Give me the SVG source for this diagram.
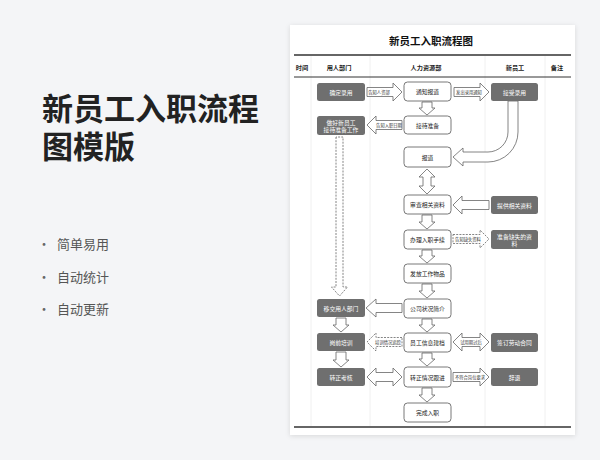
<svg xmlns="http://www.w3.org/2000/svg" width="600" height="460" viewBox="0 0 600 460">
<defs>
<filter id="sh" x="-10%" y="-10%" width="120%" height="120%">
<feDropShadow dx="0" dy="1" stdDeviation="2.5" flood-color="#000" flood-opacity="0.12"/>
</filter>
</defs>
<style>
text{font-family:"Noto Sans CJK SC","Noto Sans",sans-serif;text-anchor:middle;dominant-baseline:central}
.dk rect{fill:#6f6f6f}
.dk text{fill:#fff;font-size:5.8px}
.hr rect{fill:#fff;stroke:#555;stroke-width:0.8}
.hr text{fill:#222;font-size:5.8px}
.ar{fill:#fff;stroke:#666;stroke-width:0.8;stroke-linejoin:miter}
.ds{stroke-dasharray:2 1.2}
.lb{font-size:4.3px;fill:#333}
.hd{font-size:6.2px;font-weight:700;fill:#222}
.div{stroke:#ececec;stroke-width:0.8}
</style>
<rect width="600" height="460" fill="#f4f5f7"/>
<g id="left">
<text style="text-anchor:start;font-size:31px;font-weight:700;fill:#222"><tspan x="42" y="106">新员工入职流程</tspan><tspan x="42" y="144">图模版</tspan></text>
<g style="font-size:13px;fill:#555">
<text x="44" y="243" style="text-anchor:middle;fill:#666">•</text>
<text x="57" y="243" style="text-anchor:start">简单易用</text>
<text x="44" y="276" style="text-anchor:middle;fill:#666">•</text>
<text x="57" y="276" style="text-anchor:start">自动统计</text>
<text x="44" y="308" style="text-anchor:middle;fill:#666">•</text>
<text x="57" y="308" style="text-anchor:start">自动更新</text>
</g>
</g>
<rect x="290" y="25" width="285" height="410" fill="#fff" filter="url(#sh)"/>
<text x="431" y="40" style="font-size:10.5px;font-weight:700;fill:#111">新员工入职流程图</text>
<g id="grid">
<line class="div" x1="311" y1="56" x2="311" y2="426"/>
<line class="div" x1="370" y1="56" x2="370" y2="426"/>
<line class="div" x1="485" y1="56" x2="485" y2="426"/>
<line class="div" x1="545" y1="56" x2="545" y2="426"/>
<line x1="294" y1="55" x2="571" y2="55" stroke="#333" stroke-width="1.3"/>
<line x1="294" y1="77" x2="571" y2="77" stroke="#333" stroke-width="1"/>
<line x1="294" y1="427" x2="571" y2="427" stroke="#333" stroke-width="1.3"/>
<text class="hd" x="302" y="67">时间</text>
<text class="hd" x="339" y="67">用人部门</text>
<text class="hd" x="426" y="67">人力资源部</text>
<text class="hd" x="515" y="67">新员工</text>
<text class="hd" x="557" y="67">备注</text>
</g>
<g id="connectors">
<path class="ar" d="M367 87.5H393V83L402 92L393 101V96.5H367Z"/>
<text class="lb" x="379" y="92">告知人资部</text>
<path class="ar" d="M454 87.5H480V83L489 92L480 101V96.5H454Z"/>
<text class="lb" x="469" y="92">发出录用通知</text>
<path class="ar" d="M402 120.5H376V116L367 125L376 134V129.5H402Z"/>
<text class="lb" x="389" y="125">告知入职日期</text>
<path class="ar" d="M489 200.5H462V196L453 205L462 214V209.5H489Z"/>
<path class="ar ds" d="M453 234.5H480V230L489 239L480 248V243.5H453Z"/>
<text class="lb" x="468" y="239">告知缺失资料</text>
<path class="ar" d="M402 303.5H376V299L366 308L376 317V312.5H402Z"/>
<path class="ar ds" d="M402 337.5H376V333L367 342L376 351V346.5H402Z"/>
<text class="lb" x="388" y="342">培训情况追踪</text>
<path class="ar" d="M453 342L462 333V337.5H480V333L489 342L480 351V346.5H462V351Z"/>
<text class="lb" x="471" y="342">试用期过后</text>
<path class="ar" d="M367 377L376 368V372.5H393V368L402 377L393 386V381.5H376V386Z"/>
<path class="ar" d="M453 372.5H480V368L489 377L480 386V381.5H453Z"/>
<text class="lb" x="470" y="377">不符合岗位要求</text>
<path class="ar" d="M422 102V108H419L427 115L435 108H432V102Z"/>
<path class="ar" d="M427 169L435 177H431V186H435L427 194L419 186H423V177H419Z"/>
<path class="ar" d="M422 215V222H419L427 229L435 222H432V215Z"/>
<path class="ar" d="M422 250V256H419L427 263L435 256H432V250Z"/>
<path class="ar" d="M422 284V291H419L427 298L435 291H432V284Z"/>
<path class="ar" d="M422 319V325H419L427 332L435 325H432V319Z"/>
<path class="ar" d="M422 353V359H419L427 366L435 359H432V353Z"/>
<path class="ar" d="M422 388V395H419L427 402L435 395H432V388Z"/>
<path class="ar" d="M336 318V325H333L341 332L349 325H346V318Z"/>
<path class="ar" d="M336 352V360H333L341 367L349 360H346V352Z"/>
<path class="ar ds" d="M336 137V287H331.5L339.5 296L347.5 287H343V137Z"/>
<path class="ar" d="M508 101V132A20 20 0 0 1 488 152H463V148L453 157L463 166V162H488A30 30 0 0 0 518 132V101Z"/>
</g>
<g id="n-qdly" class="dk"><rect x="317" y="83" width="48" height="18" rx="2.5"/><text x="341" y="92">确定录用</text></g>
<g id="n-zhbzb" class="dk"><rect x="317" y="116" width="48" height="19" rx="2.5"/><text x="341" y="122">做好新员工</text><text x="341" y="129.5">接待准备工作</text></g>
<g id="n-yjyrbm" class="dk"><rect x="317" y="299" width="48" height="18" rx="2.5"/><text x="341" y="308">移交用人部门</text></g>
<g id="n-gqpx" class="dk"><rect x="317" y="333" width="48" height="18" rx="2.5"/><text x="341" y="342">岗前培训</text></g>
<g id="n-zzkh" class="dk"><rect x="317" y="368" width="48" height="18" rx="2.5"/><text x="341" y="377">转正考核</text></g>
<g id="n-tzbd" class="hr"><rect x="404" y="82" width="47" height="19" rx="3.5"/><text x="427.5" y="91.5">通知报道</text></g>
<g id="n-jdzb" class="hr"><rect x="404" y="116" width="47" height="18" rx="3.5"/><text x="427.5" y="125">接待准备</text></g>
<g id="n-bd" class="hr"><rect x="404" y="147" width="47" height="20" rx="3.5"/><text x="427.5" y="157">报道</text></g>
<g id="n-scxgzl" class="hr"><rect x="404" y="195" width="47" height="19" rx="3.5"/><text x="427.5" y="204.5">审查相关资料</text></g>
<g id="n-blrzsx" class="hr"><rect x="404" y="230" width="47" height="19" rx="3.5"/><text x="427.5" y="239.5">办理入职手续</text></g>
<g id="n-ffgzwp" class="hr"><rect x="404" y="264" width="47" height="19" rx="3.5"/><text x="427.5" y="273.5">发放工作物品</text></g>
<g id="n-gszkjj" class="hr"><rect x="404" y="299" width="47" height="19" rx="3.5"/><text x="427.5" y="308.5">公司状况简介</text></g>
<g id="n-ygxxjd" class="hr"><rect x="404" y="333" width="47" height="19" rx="3.5"/><text x="427.5" y="342.5">员工信息建档</text></g>
<g id="n-zzqkgj" class="hr"><rect x="404" y="367" width="47" height="20" rx="3.5"/><text x="427.5" y="377">转正情况跟进</text></g>
<g id="n-wcrz" class="hr"><rect x="404" y="403" width="47" height="19" rx="3.5"/><text x="427.5" y="412.5">完成入职</text></g>
<g id="n-jsly" class="dk"><rect x="491" y="83" width="47" height="18" rx="2.5"/><text x="514.5" y="92">接受录用</text></g>
<g id="n-tgxgzl" class="dk"><rect x="491" y="196" width="47" height="18" rx="2.5"/><text x="514.5" y="205">提供相关资料</text></g>
<g id="n-zbqszl" class="dk"><rect x="491" y="230" width="47" height="19" rx="2.5"/><text x="514.5" y="236">准备缺失的资</text><text x="514.5" y="243.5">料</text></g>
<g id="n-qdldht" class="dk"><rect x="491" y="333" width="47" height="19" rx="2.5"/><text x="514.5" y="342.5">签订劳动合同</text></g>
<g id="n-ct" class="dk"><rect x="491" y="368" width="47" height="18" rx="2.5"/><text x="514.5" y="377">辞退</text></g>
</svg>
